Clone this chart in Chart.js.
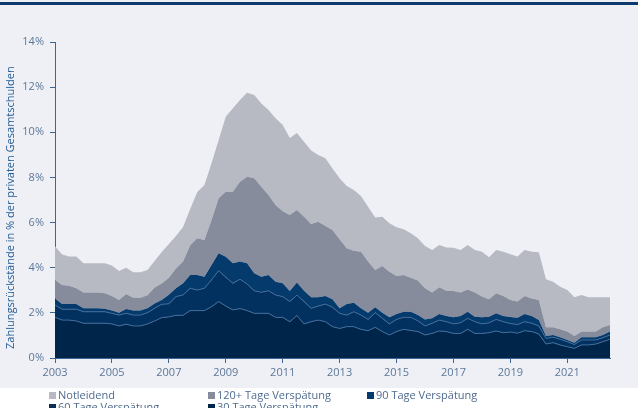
<!DOCTYPE html>
<html>
<head>
<meta charset="utf-8">
<script src="https://cdn.jsdelivr.net/npm/chart.js@4"></script>
<style>
  body { margin: 0; background: #fff; font-family: "Open Sans", sans-serif; }
  #wrap { position: relative; width: 638px; height: 388px; background: #eef0f5; overflow: hidden; }
  #topline { position: absolute; left: 0; top: 2px; width: 638px; height: 3px; background: #0d3b6e; }
  #chart { position: absolute; left: 0; top: 0; }
  #ytitle { position: absolute; left: 4px; top: 50px; height: 316px; width: 12px; line-height: 12px;
            writing-mode: vertical-rl; transform: rotate(180deg); text-align: center;
            white-space: nowrap; font-size: 11px; color: #1f5a94; }
  #legend { position: relative; width: 638px; height: 20px; font-size: 11px; line-height: 12px; color: #4f6b8f; }
  .item { position: absolute; white-space: nowrap; }
  .item i { display: inline-block; width: 7px; height: 7px; margin-right: 2px; vertical-align: 0px; }
</style>
</head>
<body>
<div id="wrap">
  <div id="topline"></div>
  <canvas id="chart" width="638" height="388"></canvas>
  <div id="ytitle">Zahlungsrückstände in % der privaten Gesamtschulden</div>
</div>
<div id="legend"></div>
<script>
// --- DATA (quarterly, 2003 Q1 - 2022 Q3) ---
// every array holds the upper edge of its band in % (bands are stacked from the bottom)
const years = [2003, 2004, 2005, 2006, 2007, 2008, 2009, 2010, 2011, 2012,
               2013, 2014, 2015, 2016, 2017, 2018, 2019, 2020, 2021, 2022];
const quarters = [];
years.forEach(y => ['Q1', 'Q2', 'Q3', 'Q4'].forEach(q => quarters.push(y + ' ' + q)));
quarters.splice(79);

const tickYears = ['2003', '2005', '2007', '2009', '2011', '2013', '2015', '2017', '2019', '2021'];

const notleidend = [4.95, 4.58, 4.5, 4.5, 4.2, 4.2, 4.2, 4.2, 4.1, 3.85, 4.0, 3.8, 3.8, 3.9, 4.3, 4.7,
  5.05, 5.4, 5.8, 6.6, 7.35, 7.67, 8.63, 9.66, 10.69, 11.06, 11.43, 11.75, 11.65, 11.28, 10.99, 10.62,
  10.32, 9.75, 9.97, 9.58, 9.19, 8.99, 8.85, 8.4, 7.96, 7.62, 7.44, 7.18, 6.7, 6.22, 6.26, 5.97,
  5.79, 5.7, 5.53, 5.3, 4.96, 4.79, 5.01, 4.9, 4.88, 4.79, 5.01, 4.79, 4.71, 4.46, 4.79, 4.71,
  4.6, 4.5, 4.79, 4.71, 4.68, 3.49, 3.38, 3.16, 3.01, 2.69, 2.79, 2.69, 2.69, 2.69, 2.69];

const tage120 = [3.46, 3.23, 3.2, 3.09, 2.9, 2.9, 2.9, 2.87, 2.75, 2.57, 2.84, 2.67, 2.67, 2.78, 3.12, 3.3,
  3.55, 3.97, 4.27, 5.0, 5.3, 5.23, 6.11, 7.08, 7.37, 7.37, 7.81, 8.03, 7.96, 7.59, 7.22, 6.78,
  6.5, 6.34, 6.56, 6.26, 5.94, 6.04, 5.85, 5.67, 5.26, 4.86, 4.75, 4.71, 4.27, 3.9, 4.08, 3.82,
  3.63, 3.68, 3.55, 3.43, 3.09, 2.9, 3.13, 2.98, 2.97, 2.9, 3.04, 2.9, 2.72, 2.6, 2.87, 2.75,
  2.57, 2.5, 2.75, 2.64, 2.57, 1.36, 1.36, 1.27, 1.17, 0.97, 1.17, 1.17, 1.17, 1.36, 1.46];

const tage90 = [2.64, 2.39, 2.39, 2.39, 2.2, 2.2, 2.2, 2.18, 2.1, 2.01, 2.17, 2.1, 2.1, 2.2, 2.42, 2.57,
  2.8, 3.09, 3.31, 3.68, 3.68, 3.6, 4.12, 4.64, 4.49, 4.2, 4.27, 4.2, 3.75, 3.6, 3.68, 3.38,
  3.31, 2.97, 3.35, 2.98, 2.69, 2.69, 2.75, 2.6, 2.2, 2.39, 2.45, 2.2, 2.01, 2.25, 2.01, 1.8,
  1.95, 2.05, 2.05, 1.9, 1.71, 1.76, 1.95, 1.86, 1.8, 1.86, 2.05, 1.83, 1.8, 1.83, 1.98, 1.86,
  1.82, 1.78, 1.95, 1.86, 1.68, 0.97, 1.02, 0.92, 0.8, 0.68, 0.92, 0.92, 0.92, 1.02, 1.17];

const tage60 = [2.35, 2.16, 2.16, 2.16, 2.05, 2.05, 2.05, 2.05, 1.98, 1.9, 1.98, 1.9, 1.9, 2.01, 2.2, 2.38,
  2.4, 2.72, 2.79, 3.09, 3.01, 3.09, 3.46, 3.87, 3.58, 3.31, 3.49, 3.28, 2.98, 2.91, 2.98, 2.79,
  2.72, 2.5, 2.79, 2.5, 2.2, 2.3, 2.39, 2.25, 1.98, 1.9, 2.05, 1.9, 1.71, 2.01, 1.76, 1.51,
  1.71, 1.8, 1.8, 1.65, 1.42, 1.54, 1.68, 1.61, 1.51, 1.56, 1.76, 1.61, 1.51, 1.56, 1.71, 1.61,
  1.53, 1.48, 1.61, 1.54, 1.42, 0.87, 0.92, 0.83, 0.72, 0.6, 0.8, 0.8, 0.8, 0.9, 1.02];

const tage30 = [1.8, 1.68, 1.68, 1.64, 1.54, 1.54, 1.54, 1.54, 1.51, 1.42, 1.5, 1.42, 1.42, 1.51, 1.64, 1.79,
  1.82, 1.89, 1.89, 2.1, 2.1, 2.1, 2.27, 2.5, 2.3, 2.13, 2.19, 2.1, 1.98, 1.98, 1.98, 1.8,
  1.8, 1.61, 1.88, 1.51, 1.61, 1.68, 1.61, 1.39, 1.31, 1.39, 1.39, 1.27, 1.21, 1.36, 1.17, 1.02,
  1.17, 1.27, 1.22, 1.17, 1.02, 1.09, 1.2, 1.17, 1.09, 1.09, 1.27, 1.09, 1.09, 1.12, 1.2, 1.12,
  1.15, 1.1, 1.21, 1.17, 1.06, 0.62, 0.68, 0.58, 0.5, 0.43, 0.58, 0.58, 0.62, 0.72, 0.83];

// --- SERIES SETUP ---
const series = [
  { label: '30 Tage Verspätung',  data: tage30,     color: '#00254a', fill: 'origin', line: '#3f6b99' },
  { label: '60 Tage Verspätung',  data: tage60,     color: '#03315f', fill: '-1',     line: '#3f6b99' },
  { label: '90 Tage Verspätung',  data: tage90,     color: '#053a6c', fill: '-1',     line: null },
  { label: '120+ Tage Verspätung', data: tage120,   color: '#878c9d', fill: '-1',     line: null },
  { label: 'Notleidend',          data: notleidend, color: '#b7b9c3', fill: '-1',     line: null }
];

const axisColor = '#3b6796';
const tickColor = '#5d7798';

const ctx = document.getElementById('chart').getContext('2d');
new Chart(ctx, {
  type: 'line',
  data: {
    labels: quarters,
    datasets: series.map(s => ({
      label: s.label,
      data: s.data,
      backgroundColor: s.color,
      borderColor: s.line || 'rgba(0,0,0,0)',
      borderWidth: 1,
      fill: s.fill,
      pointRadius: 0,
      tension: 0
    }))
  },
  options: {
    responsive: false,
    animation: false,
    layout: { padding: { left: 0, right: 28, top: 42, bottom: 0 } },
    plugins: { legend: { display: false }, tooltip: { enabled: false } },
    scales: {
      x: {
        afterFit: scale => { scale.height = 30; },
        grid: { drawOnChartArea: false, drawTicks: true, tickLength: 5, color: axisColor },
        border: { display: true, color: axisColor, width: 1 },
        ticks: {
          autoSkip: false, maxRotation: 0, padding: 3,
          color: tickColor, font: { family: 'Open Sans', size: 11 },
          callback: function (value) {
            const [y, q] = this.getLabelForValue(value).split(' ');
            return q === 'Q1' && tickYears.includes(y) ? y : null;
          }
        }
      },
      y: {
        min: 0, max: 14,
        afterFit: scale => { scale.width = 55; },
        grid: { drawOnChartArea: false, drawTicks: true, tickLength: 5, color: axisColor },
        border: { display: true, color: axisColor, width: 1 },
        ticks: {
          stepSize: 2, padding: 6,
          color: tickColor, font: { family: 'Open Sans', size: 11 },
          callback: v => v + '%'
        }
      }
    }
  }
});

// --- LEGEND ---
const legendItems = [
  { text: 'Notleidend', color: '#b7b9c3', left: 49, top: 1 },
  { text: '120+ Tage Verspätung', color: '#878c9d', left: 208, top: 1 },
  { text: '90 Tage Verspätung', color: '#053a6c', left: 367, top: 1 },
  { text: '60 Tage Verspätung', color: '#0b2e57', left: 49, top: 13 },
  { text: '30 Tage Verspätung', color: '#00254a', left: 208, top: 13 }
];
const legendEl = document.getElementById('legend');
legendItems.forEach(it => {
  const div = document.createElement('div');
  div.className = 'item';
  div.style.left = it.left + 'px';
  div.style.top = it.top + 'px';
  div.innerHTML = `<i style="background:${it.color}"></i>${it.text}`;
  legendEl.appendChild(div);
});
</script>
</body>
</html>
